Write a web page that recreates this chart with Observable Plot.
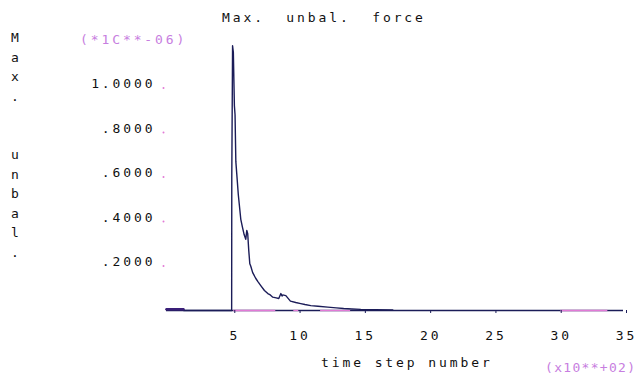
<!DOCTYPE html>
<html>
<head>
<meta charset="utf-8">
<script src="https://cdn.jsdelivr.net/npm/d3@7"></script>
<script src="https://cdn.jsdelivr.net/npm/@observablehq/plot@0.6"></script>
<style>
  html, body { margin: 0; padding: 0; background: #fff; }
  #wrap { position: relative; width: 639px; height: 374px; overflow: hidden;
          font-family: "DejaVu Sans Mono", monospace; font-size: 13px; letter-spacing: 2.9px; color: #111; }
  .ov { position: absolute; white-space: pre; line-height: 1; }
  .mag { color: #c77ee0; }
  .vch { position: absolute; width: 20px; text-align: center; line-height: 1; letter-spacing: 0; }
</style>
</head>
<body>
<div id="wrap"></div>
<script>
// ---- data (time step in units of 10**2, force in units of 10**-6) ----
const title = "Max.  unbal.  force";
const yLabel = "Max.  unbal.";
const xLabel = "time step number";
const yMultiplier = "(*1C**-06)";
const xMultiplier = "(x10**+02)";

const steps = [0, 1.3, 1.31, 4.99, 5.0, 5.06, 5.12, 5.2, 5.25, 5.31, 5.38, 5.5, 5.69, 5.82, 5.95, 6.07, 6.15, 6.22, 6.3, 6.38, 6.45, 6.6, 6.83, 7.0, 7.22, 7.5, 7.76, 7.95, 8.14, 8.4, 8.6, 8.76, 8.85, 8.91, 9.14, 9.49, 9.9, 10.28, 10.6, 11.05, 11.6, 12.35, 13.0, 13.57, 14.2, 14.88, 16.0, 17.33];
const force = [0.006, 0.006, 0, 0, 0.6, 1.19, 1.16, 0.92, 0.88, 0.67, 0.615, 0.52, 0.41, 0.374, 0.34, 0.32, 0.36, 0.345, 0.27, 0.21, 0.2, 0.17, 0.145, 0.13, 0.112, 0.09, 0.076, 0.07, 0.06, 0.057, 0.054, 0.076, 0.065, 0.07, 0.067, 0.042, 0.036, 0.031, 0.027, 0.022, 0.019, 0.015, 0.012, 0.009, 0.007, 0.005, 0.004, 0.003];

// pink zero-line pieces (start, end)
const pinkStart = [5.15, 9.75, 11.8, 30.2];
const pinkEnd   = [8.37, 10.13, 14.1, 33.8];

const xTicks = [5, 10, 15, 20, 25, 30, 35];
const xTickLabels = ["5", "10", "15", "20", "25", "30", "35"];
const yTicks = [0.2, 0.4, 0.6, 0.8, 1.0];
const yTickLabels = [".2000", ".4000", ".6000", ".8000", "1.0000"];

// ---- build ----
const series = steps.map((s, i) => ({step: s, force: force[i]}));
const pink = pinkStart.map((s, i) => ({x1: s, x2: pinkEnd[i]}));
const navy = "#1b1c58";
const pinkCol = "#e27ad6";

const chart = Plot.plot({
  width: 639,
  height: 374,
  marginLeft: 166,
  marginRight: 16,
  marginTop: 43,
  marginBottom: 64,
  x: {domain: [0, 35]},
  y: {domain: [0, 1.2]},
  style: {fontFamily: "DejaVu Sans Mono, monospace", fontSize: "13px", letterSpacing: "2.9px", color: "#111", background: "white"},
  marks: [
    Plot.ruleY([0], {x1: 0, x2: 35, stroke: navy, strokeWidth: 1.3}),
    Plot.ruleY(pink, {y: 0, x1: "x1", x2: "x2", stroke: pinkCol, strokeWidth: 1.3}),
    Plot.axisX({ticks: xTicks, tickFormat: d => xTickLabels[xTicks.indexOf(d)], tickSize: 3, tickPadding: 17, stroke: navy, fill: "#111", label: null, dx: 3}),
    Plot.axisY({ticks: yTicks, tickFormat: d => yTickLabels[yTicks.indexOf(d)], tickSize: 0, tickPadding: 11, fill: "#111", label: null, dy: -4}),
    Plot.dot(yTicks, {x: 0, y: d => d, dx: -3, r: 1, fill: pinkCol, stroke: null}),
    Plot.line(series, {x: "step", y: "force", stroke: navy, strokeWidth: 1.4}),
    Plot.line(series.slice(0, 2), {x: "step", y: "force", stroke: "#3a1f78", strokeWidth: 2.5})
  ]
});

const wrap = document.getElementById("wrap");
wrap.appendChild(chart);

function ov(text, left, top, cls, ls) {
  const d = document.createElement("div");
  d.className = "ov" + (cls ? " " + cls : "");
  d.textContent = text;
  d.style.left = left + "px";
  d.style.top = top + "px";
  if (ls != null) d.style.letterSpacing = ls + "px";
  wrap.appendChild(d);
}
ov(title, 222, 11);
ov(yMultiplier, 80, 33, "mag");
ov(xLabel, 321, 356);
ov(xMultiplier, 545, 361, "mag", 1.3);

[...yLabel].forEach((ch, i) => {
  const d = document.createElement("div");
  d.className = "vch";
  d.textContent = ch;
  d.style.left = "5px";
  d.style.top = (31 + i * 19.5) + "px";
  wrap.appendChild(d);
});
</script>
</body>
</html>
